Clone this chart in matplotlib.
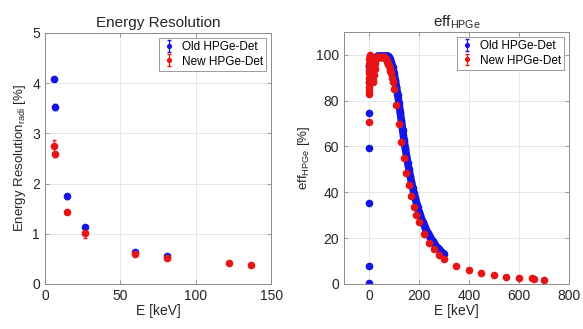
import matplotlib.pyplot as plt

plt.rcParams['font.family'] = ['Liberation Sans', 'DejaVu Sans']
plt.rcParams['mathtext.default'] = 'regular'

# Energy resolution data
res_old_E = [5.9, 6.5, 14.4, 26.3, 59.5, 81.0]
res_old_val = [4.08, 3.52, 1.75, 1.13, 0.64, 0.55]
res_old_err = [0.03, 0.06, 0.05, 0.03, 0.02, 0.02]

res_new_E = [5.9, 6.5, 14.4, 26.3, 59.5, 81.0, 122.1, 136.5]
res_new_val = [2.75, 2.58, 1.43, 1.02, 0.59, 0.51, 0.41, 0.38]
res_new_err = [0.12, 0.05, 0.03, 0.10, 0.02, 0.02, 0.02, 0.02]

# Efficiency data
eff_old_E = [0, 0, 0, 0, 0, 1, 1, 2, 5, 10, 15, 20, 25, 30, 35, 40, 45, 50, 55, 60,
             65, 70, 75, 80, 85, 90, 95, 100, 105, 110, 115, 120, 125, 130, 135, 140,
             145, 150, 155, 160, 165, 170, 175, 180, 185, 190, 195, 200, 205, 210,
             215, 220, 225, 230, 235, 240, 245, 250, 255, 260, 265, 270, 275, 280,
             285, 290, 295, 300]
eff_old_val = [0.3, 8, 35.5, 59.5, 74.5, 88, 93, 95, 96, 97, 95, 96, 98, 99, 99.5, 99.5,
               99.5, 99.5, 99.5, 99.5, 99.5, 99.5, 99.5, 99, 98, 96.5, 94.5, 92, 89,
               86, 82.5, 79, 75, 71, 67, 63, 59.5, 56, 53, 50, 47, 44.5, 42, 39.5,
               37.5, 35.5, 33.5, 31.5, 30, 28.5, 27, 25.8, 24.6, 23.4, 22.3, 21.3,
               20.3, 19.4, 18.6, 17.8, 17, 16.3, 15.7, 15.1, 14.5, 14, 13.5, 13]

eff_new_E = [0, 0, 0, 0, 0, 1, 1, 1, 2, 2, 3, 4, 5, 6, 8, 10, 12, 14, 16, 18, 20, 23,
             26, 29, 32, 35, 38, 41, 44, 47, 50, 53, 56, 59, 62, 65, 68, 71, 74, 77,
             80, 83, 86, 89, 92, 95, 100, 110, 120, 130, 140, 150, 160, 170, 180, 190,
             200, 220, 240, 260, 280, 300, 350, 400, 450, 500, 550, 600, 650, 660, 700]
eff_new_val = [70.5, 83, 84, 86, 88, 90, 92, 94, 96, 98, 99, 100, 99.5, 98, 97, 96, 92,
               89, 88, 89, 91, 94, 96, 98, 99, 99, 99, 99, 99, 99, 99, 99, 99, 99, 99,
               98.5, 98, 97.5, 97, 96, 95, 94, 93, 92, 90, 88, 85.3, 78, 70, 62, 55,
               48.5, 43, 38.3, 33.7, 30.3, 27, 22, 18, 15.3, 12.8, 11, 7.7, 6, 4.7,
               3.8, 3.2, 2.7, 2.4, 2.3, 1.6]

blue = '#1414e6'
red = '#e61414'
grey_txt = '#262626'


def style_axes(ax):
    ax.grid(True, color='#e6e6e6', linewidth=0.7)
    ax.set_axisbelow(True)
    for s in ax.spines.values():
        s.set_color('#8c8c8c')
        s.set_linewidth(0.7)
    ax.tick_params(direction='in', length=3, width=0.6, color='#8c8c8c',
                   labelsize=10, labelcolor=grey_txt, top=True, right=True)


def add_legend(ax):
    leg = ax.legend(loc='upper right', fontsize=8.5, fancybox=False, framealpha=1,
                    edgecolor='#8c8c8c', handlelength=1.0, handletextpad=0.6,
                    borderpad=0.3, labelspacing=0.2, borderaxespad=0.4,
                    markerscale=0.6)
    leg.get_frame().set_linewidth(0.6)


fig = plt.figure(figsize=(5.83, 3.29), dpi=100)

# Left: energy resolution
ax1 = fig.add_axes([0.077, 0.137, 0.388, 0.763])
ax1.errorbar(res_old_E, res_old_val, yerr=res_old_err, fmt='o', color=blue,
             ms=4.5, capsize=1.5, elinewidth=0.9, label='Old HPGe-Det')
ax1.errorbar(res_new_E, res_new_val, yerr=res_new_err, fmt='o', color=red,
             ms=4.5, capsize=1.5, elinewidth=0.9, label='New HPGe-Det')
ax1.set_xlim(0, 150)
ax1.set_ylim(0, 5)
ax1.set_xticks([0, 50, 100, 150])
ax1.set_yticks([0, 1, 2, 3, 4, 5])
ax1.set_title('Energy Resolution', fontsize=11, color=grey_txt, pad=4)
ax1.set_xlabel('E [keV]', fontsize=10, color=grey_txt, labelpad=1)
ax1.set_ylabel('Energy Resolution$_{radi}$ [%]', fontsize=9.5, color=grey_txt, labelpad=3)
style_axes(ax1)
add_legend(ax1)

# Right: efficiency
ax2 = fig.add_axes([0.590, 0.137, 0.386, 0.766])
# the old detector was sampled densely, so its points merge into a thick band
ax2.plot(eff_old_E[7:], eff_old_val[7:], color=blue, lw=5.5, solid_capstyle='round')
ax2.errorbar(eff_old_E, eff_old_val, yerr=[0.1] * len(eff_old_E), fmt='o', color=blue,
             ms=4.5, capsize=1.5, elinewidth=0.9, label='Old HPGe-Det')
ax2.errorbar(eff_new_E, eff_new_val, yerr=[0.1] * len(eff_new_E), fmt='o', color=red,
             ms=4.5, capsize=1.5, elinewidth=0.9, label='New HPGe-Det')
ax2.set_xlim(-100, 800)
ax2.set_ylim(0, 110)
ax2.set_xticks([0, 200, 400, 600, 800])
ax2.set_yticks([0, 20, 40, 60, 80, 100])
ax2.set_title('eff$_{HPGe}$', fontsize=11, color=grey_txt, pad=4)
ax2.set_xlabel('E [keV]', fontsize=10, color=grey_txt, labelpad=1)
ax2.set_ylabel('eff$_{HPGe}$ [%]', fontsize=9.5, color=grey_txt, labelpad=3)
style_axes(ax2)
add_legend(ax2)

fig.savefig('out.png', dpi=100)
